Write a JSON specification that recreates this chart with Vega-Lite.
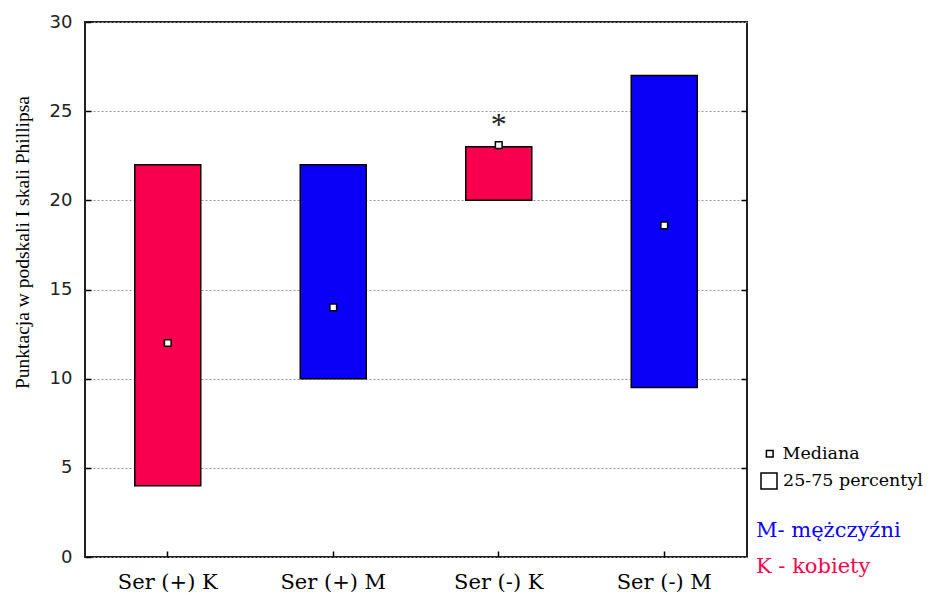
{
  "$schema": "https://vega.github.io/schema/vega-lite/v6.json",
  "width": 662,
  "height": 535,
  "autosize": "none",
  "padding": {"left": 85, "top": 22, "right": 183, "bottom": 41},
  "background": "white",
  "config": {
    "view": {"stroke": "#222", "strokeWidth": 2},
    "font": "Liberation Serif"
  },
  "data": {
    "values": [
      {"grupa": "Ser (+) K", "plec": "K - kobiety", "q1": 4, "q3": 22, "mediana": 12, "lg": "Mediana", "lg2": "25-75 percentyl"},
      {"grupa": "Ser (+) M", "plec": "M- mężczyźni", "q1": 10, "q3": 22, "mediana": 14, "lg": "Mediana", "lg2": "25-75 percentyl"},
      {"grupa": "Ser (-) K", "plec": "K - kobiety", "q1": 20, "q3": 23, "mediana": 23.1, "lg": "Mediana", "lg2": "25-75 percentyl"},
      {"grupa": "Ser (-) M", "plec": "M- mężczyźni", "q1": 9.5, "q3": 27, "mediana": 18.6, "lg": "Mediana", "lg2": "25-75 percentyl"}
    ]
  },
  "layer": [
    {
      "mark": {"type": "bar", "size": 66, "stroke": "black", "strokeWidth": 1.5},
      "encoding": {
        "x": {
          "field": "grupa", "type": "nominal", "sort": null,
          "scale": {"paddingInner": 0, "paddingOuter": 0},
          "axis": {
            "title": null, "labelAngle": 0, "domain": false,
            "tickSize": -6, "tickColor": "black", "tickWidth": 1.5,
            "labelFont": "DejaVu Serif", "labelFontSize": 21, "labelColor": "black",
            "labelPadding": 20, "grid": false
          }
        },
        "y": {
          "field": "q1", "type": "quantitative",
          "scale": {"domain": [0, 30], "nice": false, "zero": true},
          "axis": {
            "values": [0, 5, 10, 15, 20, 25, 30],
            "domain": false,
            "tickSize": -6, "tickColor": "black", "tickWidth": 1.5,
            "labelFont": "DejaVu Sans", "labelFontSize": 18, "labelColor": "#222",
            "labelPadding": 19,
            "grid": true, "gridDash": [2, 2], "gridColor": "#999", "gridWidth": 1,
            "title": "Punktacja w podskali I skali Phillipsa",
            "titleFont": "Liberation Serif", "titleFontSize": 19.5, "titleFontWeight": "normal",
            "titleColor": "black", "titleAngle": -90, "titleBaseline": "middle", "titleAlign": "center",
            "titleX": -63, "titleY": 220
          }
        },
        "y2": {"field": "q3"},
        "color": {
          "field": "plec", "type": "nominal",
          "scale": {"domain": ["M- mężczyźni", "K - kobiety"], "range": ["#0a00f8", "#f8004f"]},
          "legend": {
            "orient": "none", "legendX": 650, "legendY": 498,
            "title": null, "symbolSize": 0, "symbolOpacity": 0, "symbolStrokeWidth": 0,
            "labelOffset": 0, "labelFont": "DejaVu Serif", "labelFontSize": 21,
            "labelColor": {"expr": "datum.label == 'M- mężczyźni' ? '#0a00f8' : '#f8004f'"},
            "rowPadding": 14
          }
        },
        "opacity": {
          "field": "lg2", "type": "nominal",
          "scale": {"domain": ["25-75 percentyl"], "range": [1]},
          "legend": {
            "orient": "none", "legendX": 675, "legendY": 450,
            "title": null, "symbolType": "square", "symbolSize": 256,
            "symbolFillColor": "white", "symbolStrokeColor": "black", "symbolStrokeWidth": 1.5,
            "symbolOpacity": 1,
            "labelFont": "DejaVu Serif", "labelFontSize": 17.5, "labelColor": "black",
            "labelOffset": 5
          }
        }
      }
    },
    {
      "mark": {"type": "point", "shape": "square", "filled": true, "stroke": "black", "strokeWidth": 1.5, "size": 45, "opacity": 1},
      "encoding": {
        "x": {"field": "grupa", "type": "nominal", "sort": null},
        "y": {"field": "mediana", "type": "quantitative", "axis": null},
        "fill": {
          "field": "lg", "type": "nominal",
          "scale": {"domain": ["Mediana"], "range": ["white"]},
          "legend": {
            "orient": "none", "legendX": 676, "legendY": 423,
            "title": null, "symbolType": "square", "symbolSize": 45,
            "symbolStrokeColor": "black", "symbolStrokeWidth": 1.5,
            "symbolOpacity": 1,
            "labelFont": "DejaVu Serif", "labelFontSize": 17.5, "labelColor": "black",
            "labelOffset": 4
          }
        }
      }
    },
    {
      "data": {"values": [{"grupa": "Ser (-) K", "y": 24.2, "txt": "*"}]},
      "mark": {"type": "text", "font": "Liberation Serif", "fontSize": 32, "color": "#222", "baseline": "middle", "align": "center"},
      "encoding": {
        "x": {"field": "grupa", "type": "nominal", "sort": null},
        "y": {"field": "y", "type": "quantitative", "axis": null},
        "text": {"field": "txt"}
      }
    },
    {
      "mark": {"type": "rule", "opacity": 0},
      "encoding": {
        "x": {"field": "grupa", "type": "nominal", "sort": null},
        "y": {
          "field": "mediana", "type": "quantitative",
          "axis": {
            "orient": "right", "values": [5, 10, 15, 20, 25], "labels": false, "domain": false,
            "grid": false, "title": null, "tickSize": -6, "tickColor": "black", "tickWidth": 1.5
          }
        }
      }
    }
  ],
  "resolve": {"axis": {"y": "independent"}}
}
